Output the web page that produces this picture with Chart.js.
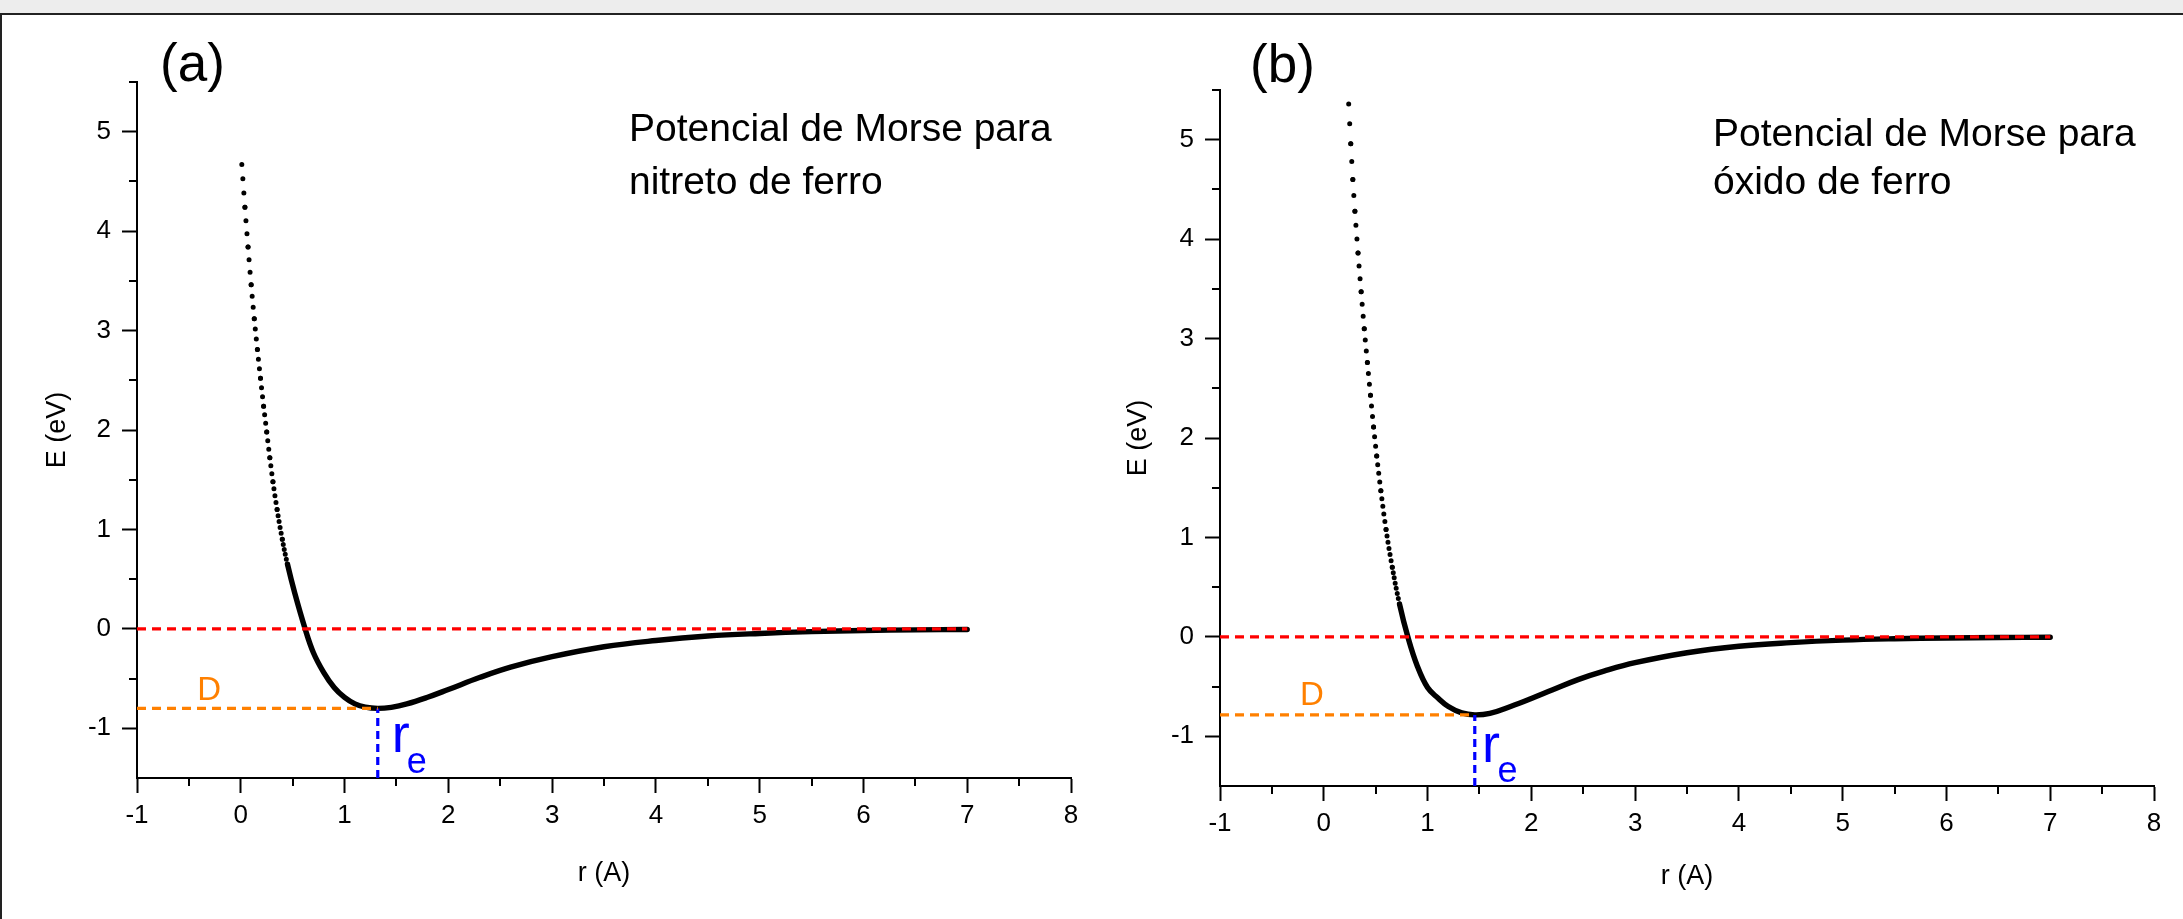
<!DOCTYPE html>
<html>
<head>
<meta charset="utf-8">
<title>Potencial de Morse</title>
<script src="https://cdn.jsdelivr.net/npm/chart.js@4.4.1/dist/chart.umd.min.js"></script>
<style>
    html, body { margin: 0; padding: 0; background: #fff; }
    body { width: 2183px; height: 919px; position: relative; overflow: hidden; }
    #topbar { position: absolute; left: 0; top: 0; width: 2183px; height: 13px; background: #ededed; }
    #frame  { position: absolute; left: 0; top: 13px; width: 2183px; height: 906px;
              border-top: 2px solid #222; border-left: 2px solid #222; box-sizing: border-box; }
    canvas  { position: absolute; top: 0; }
    #graphA { left: 0; }
    #graphB { left: 1090px; }
</style>
</head>
<body>
<div id="topbar"></div>
<div id="frame"></div>
<canvas id="graphA" width="1090" height="919"></canvas>
<canvas id="graphB" width="1093" height="919"></canvas>

<script>
// eixos (iguais nos dois graficos)
var xTicks  = [-1, 0, 1, 2, 3, 4, 5, 6, 7, 8];
var yTicks  = [-1, 0, 1, 2, 3, 4, 5];
var xMinor  = [-0.5, 0.5, 1.5, 2.5, 3.5, 4.5, 5.5, 6.5, 7.5];
var yMinor  = [-0.5, 0.5, 1.5, 2.5, 3.5, 4.5, 5.5];
var xRange  = [-1, 8];
var yRange  = [-1.5, 5.5];
var zeroEnd = 7;

// (a) nitreto de ferro : r (A) , E (eV)
var rA = [0.01, 0.04, 0.07, 0.10, 0.13, 0.16, 0.19, 0.22, 0.25, 0.28, 0.31, 0.35, 0.40, 0.45, 0.52, 0.62,
          0.70, 0.80, 0.90, 1.00, 1.10, 1.20, 1.32, 1.45, 1.60, 1.80, 2.00, 2.30, 2.60, 3.00, 3.50,
          4.00, 4.50, 5.00, 5.50, 6.00, 6.50, 7.00];
var eA = [4.67, 4.24, 3.84, 3.46, 3.12, 2.81, 2.52, 2.24, 1.98, 1.72, 1.48, 1.20, 0.90, 0.65, 0.36, 0.00,
          -0.24, -0.44, -0.59, -0.69, -0.755, -0.788, -0.80, -0.789, -0.755, -0.688, -0.61, -0.49, -0.385, -0.28, -0.18,
          -0.117, -0.072, -0.046, -0.028, -0.017, -0.01, -0.006];
var wellA = -0.80;
var reA   = 1.32;

// (b) oxido de ferro : r (A) , E (eV)
var rB = [0.24, 0.26, 0.28, 0.30, 0.33, 0.36, 0.39, 0.42, 0.45, 0.48, 0.51, 0.55, 0.60, 0.66, 0.73, 0.81,
          0.90, 1.00, 1.10, 1.20, 1.33, 1.455, 1.60, 1.80, 2.00, 2.20, 2.45, 2.70, 3.00, 3.50,
          4.00, 4.50, 5.00, 5.50, 6.00, 6.50, 7.00];
var eB = [5.36, 4.96, 4.60, 4.28, 3.86, 3.47, 3.10, 2.76, 2.43, 2.11, 1.82, 1.47, 1.08, 0.70, 0.33, 0.00,
          -0.29, -0.51, -0.615, -0.70, -0.765, -0.785, -0.77, -0.70, -0.62, -0.535, -0.43, -0.345, -0.26, -0.16,
          -0.095, -0.058, -0.033, -0.019, -0.011, -0.007, -0.004];
var wellB = -0.785;
var reB   = 1.455;


Chart.defaults.font.family = "'Liberation Sans', Arial, Helvetica, sans-serif";
Chart.defaults.color = '#000';

var ORANGE = '#ff8000';
var BLUE   = '#0000ff';
var RED    = '#ff0000';
var DOT_DX = 0.0095;    //passo dos pontos da curva (so para o desenho)

//onde a curva e ingreme os pontos ficam separados -> linha pontilhada
function dotDash(c){
    var p0 = c.p0, p1 = c.p1;
    var h = Math.abs(p1.x - p0.x);
    if (h === 0) { return undefined; }
    var xs = c.chart.scales.x;
    var step = Math.abs(xs.getPixelForValue(DOT_DX) - xs.getPixelForValue(0));
    var len = Math.hypot(p1.x - p0.x, p1.y - p0.y);
    var gap = step * len / h;
    if (gap < 4.8) { return undefined; }
    var n = Math.max(1, Math.round(len / gap));
    return [0, len / n];
}

//tracos menores dos eixos
var minorTicks = {
    id: 'minorTicks',
    afterDraw: function(chart){
        var ctx = chart.ctx, a = chart.chartArea;
        var xs = chart.scales.x, ys = chart.scales.y;
        ctx.save();
        ctx.strokeStyle = '#000';
        ctx.lineWidth = 2;
        ctx.beginPath();
        xMinor.forEach(function(v){
            var px = Math.round(xs.getPixelForValue(v));
            ctx.moveTo(px, a.bottom);
            ctx.lineTo(px, a.bottom + 8);
        });
        yMinor.forEach(function(v){
            var py = Math.round(ys.getPixelForValue(v));
            ctx.moveTo(a.left, py);
            ctx.lineTo(a.left - 8, py);
        });
        ctx.stroke();
        ctx.restore();
    }
};

//textos do grafico (px = posicao no canvas, at = posicao nos eixos)
function notes_plugin(items){
    return {
        id: 'notes',
        afterDraw: function(chart){
            var ctx = chart.ctx;
            var xs = chart.scales.x, ys = chart.scales.y;
            ctx.save();
            ctx.textAlign = 'left';
            ctx.textBaseline = 'alphabetic';
            items.forEach(function(it){
                var x, y;
                if (it.at) {
                    x = xs.getPixelForValue(it.at[0]);
                    y = ys.getPixelForValue(it.at[1]);
                } else {
                    x = it.px[0];
                    y = it.px[1];
                }
                ctx.font = it.size + "px 'Liberation Sans', Arial, sans-serif";
                ctx.fillStyle = it.color || '#000';
                ctx.fillText(it.text, x, y);
            });
            ctx.restore();
        }
    };
}


function draw_morse(id, r, e, well, re, lay, items){

    let curve = r.map(function(v, i){ return {x: v, y: e[i]}; });

    return new Chart(document.getElementById(id), {
        type: 'scatter',
        data: {
            datasets: [
                {
                    data: [{x: xRange[0], y: 0}, {x: zeroEnd, y: 0}],
                    showLine: true, borderColor: RED, borderWidth: 3.2,
                    borderDash: [9, 6], pointRadius: 0
                },
                {
                    data: [{x: xRange[0], y: well}, {x: re, y: well}],
                    showLine: true, borderColor: ORANGE, borderWidth: 3.2,
                    borderDash: [9, 6], pointRadius: 0
                },
                {
                    data: [{x: re, y: yRange[0]}, {x: re, y: well}],
                    showLine: true, borderColor: BLUE, borderWidth: 3.2,
                    borderDash: [8, 5], pointRadius: 0
                },
                {
                    data: curve,
                    showLine: true, borderColor: '#000', borderWidth: 5.4,
                    borderCapStyle: 'round', borderJoinStyle: 'round',
                    tension: 0.4, pointRadius: 0,
                    segment: {
                        borderDash: dotDash,
                        borderWidth: function(c){ return dotDash(c) ? 5 : 5.4; }
                    }
                }
            ]
        },
        options: {
            responsive: false,
            animation: false,
            events: [],
            layout: { padding: { top: lay.top, right: lay.right, bottom: 0, left: 0 } },
            plugins: {
                legend: { display: false },
                tooltip: { enabled: false }
            },
            scales: {
                x: {
                    type: 'linear', min: xRange[0], max: xRange[1],
                    afterBuildTicks: function(s){ s.ticks = xTicks.map(function(v){ return {value: v}; }); },
                    afterFit: function(s){ s.height = lay.xAxisH; },
                    ticks: { font: { size: 26 }, color: '#000', padding: 7, maxRotation: 0, autoSkip: false },
                    grid: { drawOnChartArea: false, drawTicks: true, tickLength: 15, tickWidth: 2, color: '#000' },
                    border: { display: true, color: '#000', width: 2 },
                    title: { display: true, text: 'r (A)', font: { size: 27 }, color: '#000',
                             padding: { top: 0, bottom: lay.xTitlePad } }
                },
                y: {
                    type: 'linear', min: yRange[0], max: yRange[1],
                    afterBuildTicks: function(s){ s.ticks = yTicks.map(function(v){ return {value: v}; }); },
                    afterFit: function(s){ s.width = lay.yAxisW; },
                    ticks: { font: { size: 26 }, color: '#000', padding: 11 },
                    grid: { drawOnChartArea: false, drawTicks: true, tickLength: 15, tickWidth: 2, color: '#000' },
                    border: { display: true, color: '#000', width: 2 },
                    title: { display: true, text: 'E (eV)', font: { size: 27 }, color: '#000',
                             padding: { top: lay.yTitlePad, bottom: 0 } }
                }
            }
        },
        plugins: [minorTicks, notes_plugin(items)]
    });
}

window.addEventListener("load", function(){

    draw_morse("graphA", rA, eA, wellA, reA,
        { top: 82, right: 19, yAxisW: 137, xAxisH: 141, yTitlePad: 41.8, xTitlePad: 28.8 },
        [
            { text: '(a)', size: 53, px: [160, 81] },
            { text: 'Potencial de Morse para', size: 39, px: [629, 141] },
            { text: 'nitreto de ferro', size: 39, px: [629, 194] },
            { text: 'D', size: 33, color: ORANGE, at: [-0.42, -0.72] },
            { text: 'r', size: 54, color: BLUE, at: [1.455, -1.235] },
            { text: 'e', size: 36, color: BLUE, at: [1.60, -1.446] }
        ]);

    draw_morse("graphB", rB, eB, wellB, reB,
        { top: 90, right: 29, yAxisW: 130, xAxisH: 133, yTitlePad: 32.8, xTitlePad: 25.8 },
        [
            { text: '(b)', size: 53, px: [160, 82] },
            { text: 'Potencial de Morse para', size: 39, px: [623, 146] },
            { text: 'óxido de ferro', size: 39, px: [623, 194] },
            { text: 'D', size: 33, color: ORANGE, at: [-0.23, -0.684] },
            { text: 'r', size: 54, color: BLUE, at: [1.525, -1.258] },
            { text: 'e', size: 36, color: BLUE, at: [1.675, -1.459] }
        ]);
});
</script>
</body>
</html>
